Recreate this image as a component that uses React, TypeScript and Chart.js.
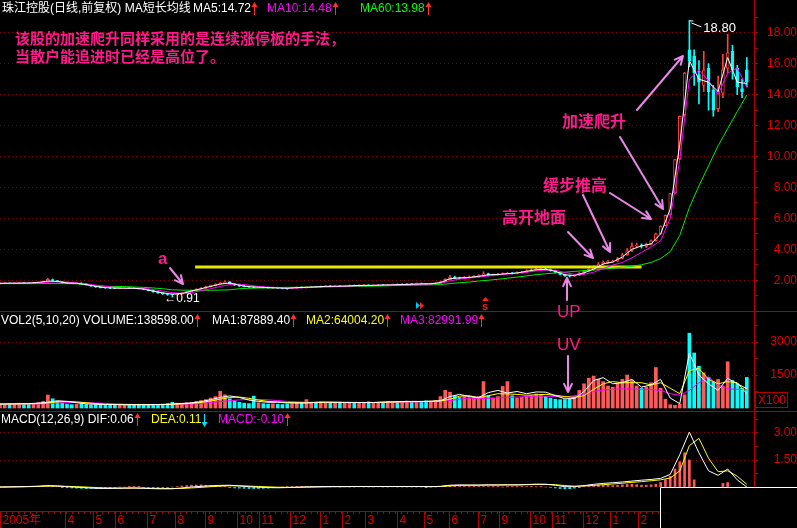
import React, { useEffect, useRef } from "react";
import { Chart, registerables } from "chart.js";

Chart.register(...registerables);

// ---------- time axis (trading-day index) ----------
const DAYS_PER_CANDLE = 4;
const DAYS_PER_LINE_POINT = 8;
const LAST_DAY = 630;
const monthDays = [0, 54, 78, 96, 123, 146, 171, 198, 216, 242, 267, 286, 305, 332, 354, 375, 399, 417, 443, 461, 487, 510, 533];
const monthLabels = ["2005年", "4", "5", "6", "7", "8", "9", "10", "11", "12", "1", "2", "3", "4", "5", "6", "7", "9", "10", "11", "12", "1", "2"];

// ---------- price candles ----------
const opens = [
  1.78, 1.80, 1.82, 1.79, 1.81, 1.85, 1.82, 1.80, 1.83, 1.86,
  1.90, 2.04, 1.97, 1.91, 1.85, 1.83, 1.79, 1.82, 1.77, 1.69,
  1.62, 1.57, 1.53, 1.50, 1.50, 1.46, 1.48, 1.51, 1.49, 1.48,
  1.46, 1.40, 1.33, 1.25, 1.18, 1.12, 1.09, 1.05, 1.10, 1.18,
  1.26, 1.34, 1.43, 1.49, 1.58, 1.65, 1.76, 1.81, 1.90, 1.77,
  1.68, 1.62, 1.59, 1.56, 1.53, 1.56, 1.52, 1.49, 1.53, 1.50,
  1.48, 1.45, 1.49, 1.55, 1.52, 1.55, 1.59, 1.56, 1.60, 1.63,
  1.60, 1.63, 1.61, 1.63, 1.67, 1.64, 1.66, 1.69, 1.66, 1.68,
  1.71, 1.68, 1.70, 1.73, 1.71, 1.74, 1.77, 1.75, 1.79, 1.78,
  1.76, 1.78, 1.81, 1.91, 2.04, 2.21, 2.16, 2.12, 2.19, 2.20,
  2.24, 2.30, 2.43, 2.32, 2.36, 2.41, 2.42, 2.47, 2.44, 2.48,
  2.52, 2.61, 2.65, 2.71, 2.73, 2.70, 2.61, 2.50, 2.37, 2.29,
  2.27, 2.33, 2.45, 2.58, 2.70, 2.86, 3.06, 3.14, 3.21, 3.23,
  3.41, 3.64, 3.92, 4.22, 4.28, 4.18, 4.31, 4.56, 5.00, 5.52,
  6.25, 7.65, 9.85, 12.70, 16.90, 16.50, 15.30, 14.60, 15.70, 14.30,
  13.10, 14.10, 15.70, 16.80, 15.70, 14.40, 15.60,
];
const closes = [
  1.80, 1.82, 1.79, 1.81, 1.84, 1.82, 1.80, 1.83, 1.86, 1.90,
  2.05, 1.98, 1.90, 1.86, 1.82, 1.80, 1.81, 1.78, 1.70, 1.62,
  1.56, 1.52, 1.50, 1.49, 1.47, 1.48, 1.50, 1.49, 1.47, 1.46,
  1.40, 1.33, 1.25, 1.18, 1.12, 1.09, 1.06, 1.10, 1.18, 1.26,
  1.35, 1.42, 1.50, 1.58, 1.66, 1.75, 1.82, 1.90, 1.78, 1.68,
  1.62, 1.58, 1.56, 1.54, 1.55, 1.52, 1.50, 1.52, 1.49, 1.47,
  1.45, 1.50, 1.54, 1.52, 1.55, 1.58, 1.57, 1.60, 1.62, 1.60,
  1.62, 1.61, 1.63, 1.66, 1.64, 1.67, 1.68, 1.66, 1.69, 1.70,
  1.68, 1.70, 1.72, 1.71, 1.74, 1.76, 1.75, 1.78, 1.77, 1.76,
  1.78, 1.80, 1.90, 2.05, 2.20, 2.15, 2.12, 2.18, 2.20, 2.25,
  2.30, 2.42, 2.32, 2.36, 2.40, 2.42, 2.45, 2.44, 2.48, 2.52,
  2.60, 2.66, 2.70, 2.72, 2.70, 2.62, 2.50, 2.38, 2.28, 2.27,
  2.32, 2.45, 2.58, 2.70, 2.85, 3.05, 3.15, 3.20, 3.22, 3.40,
  3.65, 3.90, 4.20, 4.25, 4.20, 4.30, 4.55, 5.00, 5.50, 6.20,
  7.60, 9.80, 12.60, 15.40, 16.20, 15.40, 14.80, 15.60, 14.20, 13.00,
  14.20, 15.60, 16.70, 15.60, 14.50, 14.20, 14.80,
];
const highs = [
  1.83, 1.85, 1.84, 1.83, 1.87, 1.87, 1.84, 1.86, 1.90, 1.95,
  2.12, 2.08, 1.99, 1.93, 1.88, 1.85, 1.84, 1.84, 1.79, 1.71,
  1.64, 1.59, 1.55, 1.53, 1.52, 1.51, 1.53, 1.53, 1.51, 1.50,
  1.48, 1.42, 1.35, 1.27, 1.20, 1.14, 1.11, 1.12, 1.20, 1.28,
  1.37, 1.45, 1.53, 1.61, 1.69, 1.78, 1.86, 1.96, 1.92, 1.79,
  1.70, 1.65, 1.61, 1.58, 1.58, 1.58, 1.55, 1.55, 1.55, 1.52,
  1.50, 1.53, 1.57, 1.57, 1.58, 1.62, 1.61, 1.63, 1.66, 1.65,
  1.65, 1.66, 1.66, 1.70, 1.69, 1.70, 1.72, 1.71, 1.72, 1.74,
  1.73, 1.73, 1.76, 1.76, 1.78, 1.80, 1.79, 1.82, 1.82, 1.80,
  1.81, 1.84, 1.94, 2.10, 2.32, 2.26, 2.20, 2.24, 2.28, 2.30,
  2.36, 2.55, 2.46, 2.40, 2.45, 2.48, 2.52, 2.50, 2.54, 2.58,
  2.68, 2.75, 2.78, 2.80, 2.78, 2.73, 2.64, 2.52, 2.40, 2.33,
  2.36, 2.50, 2.62, 2.76, 2.95, 3.15, 3.25, 3.28, 3.30, 3.48,
  3.75, 4.05, 4.42, 4.40, 4.35, 4.40, 4.62, 5.05, 5.52, 6.22,
  7.62, 9.82, 12.62, 15.45, 18.80, 16.90, 16.20, 16.80, 16.00, 14.60,
  15.20, 16.60, 17.90, 17.20, 15.90, 15.00, 16.40,
];
const lows = [
  1.76, 1.78, 1.77, 1.77, 1.79, 1.80, 1.78, 1.78, 1.81, 1.84,
  1.88, 1.95, 1.88, 1.84, 1.80, 1.78, 1.77, 1.76, 1.68, 1.60,
  1.53, 1.50, 1.47, 1.46, 1.45, 1.44, 1.46, 1.47, 1.45, 1.43,
  1.38, 1.31, 1.22, 1.15, 1.08, 1.02, 0.91, 1.02, 1.08, 1.16,
  1.24, 1.32, 1.40, 1.47, 1.55, 1.63, 1.73, 1.79, 1.75, 1.65,
  1.60, 1.56, 1.53, 1.51, 1.51, 1.50, 1.48, 1.47, 1.47, 1.44,
  1.41, 1.43, 1.47, 1.50, 1.50, 1.53, 1.55, 1.54, 1.58, 1.58,
  1.58, 1.59, 1.59, 1.61, 1.62, 1.62, 1.64, 1.64, 1.64, 1.66,
  1.65, 1.66, 1.68, 1.69, 1.69, 1.72, 1.73, 1.73, 1.75, 1.73,
  1.74, 1.76, 1.79, 1.88, 2.01, 2.10, 2.08, 2.09, 2.14, 2.16,
  2.20, 2.27, 2.28, 2.28, 2.32, 2.37, 2.39, 2.40, 2.41, 2.45,
  2.49, 2.57, 2.62, 2.66, 2.65, 2.58, 2.46, 2.34, 2.24, 2.20,
  2.24, 2.30, 2.42, 2.55, 2.66, 2.82, 3.02, 3.08, 3.15, 3.19,
  3.38, 3.60, 3.85, 4.10, 4.08, 4.10, 4.28, 4.52, 4.98, 5.50,
  6.20, 7.60, 9.80, 12.60, 15.80, 14.60, 13.40, 14.20, 13.00, 12.60,
  12.90, 13.80, 15.40, 15.00, 14.00, 13.80, 14.50,
];

// ---------- price moving averages (one point per 8 trading days) ----------
const ma5 = [
  1.80, 1.81, 1.81, 1.82, 1.85, 1.95, 1.92, 1.82, 1.80, 1.72,
  1.60, 1.52, 1.49, 1.48, 1.48, 1.43, 1.30, 1.18, 1.10, 1.14,
  1.30, 1.45, 1.60, 1.75, 1.82, 1.68, 1.58, 1.55, 1.52, 1.50,
  1.48, 1.52, 1.54, 1.57, 1.60, 1.61, 1.62, 1.65, 1.67, 1.67,
  1.69, 1.70, 1.72, 1.74, 1.76, 1.77, 1.85, 2.10, 2.15, 2.18,
  2.25, 2.35, 2.37, 2.43, 2.47, 2.58, 2.68, 2.70, 2.58, 2.35,
  2.30, 2.48, 2.72, 3.05, 3.18, 3.50, 4.00, 4.22, 4.35, 5.00,
  6.60, 10.80, 16.20, 15.00, 14.80, 14.20, 16.40, 14.80, 14.72,
];
const ma10 = [
  1.80, 1.80, 1.81, 1.81, 1.83, 1.88, 1.90, 1.88, 1.83, 1.76,
  1.68, 1.60, 1.54, 1.50, 1.49, 1.47, 1.40, 1.30, 1.20, 1.15,
  1.20, 1.32, 1.45, 1.60, 1.72, 1.75, 1.68, 1.60, 1.55, 1.52,
  1.50, 1.50, 1.52, 1.55, 1.58, 1.60, 1.61, 1.63, 1.65, 1.66,
  1.68, 1.69, 1.71, 1.73, 1.75, 1.76, 1.80, 1.95, 2.08, 2.15,
  2.20, 2.28, 2.34, 2.40, 2.45, 2.52, 2.60, 2.66, 2.64, 2.50,
  2.38, 2.38, 2.52, 2.75, 2.98, 3.15, 3.45, 3.80, 4.15, 4.55,
  6.00, 9.80, 15.00, 15.60, 14.90, 14.00, 15.40, 15.70, 14.48,
];
const ma60 = [
  1.78, 1.78, 1.78, 1.78, 1.78, 1.78, 1.78, 1.78, 1.77, 1.70,
  1.64, 1.61, 1.60, 1.59, 1.56, 1.54, 1.50, 1.45, 1.38, 1.36,
  1.35, 1.35, 1.35, 1.36, 1.38, 1.45, 1.48, 1.49, 1.50, 1.52,
  1.54, 1.54, 1.55, 1.56, 1.57, 1.58, 1.59, 1.60, 1.61, 1.62,
  1.63, 1.65, 1.66, 1.68, 1.69, 1.70, 1.72, 1.78, 1.84, 1.88,
  1.95, 2.00, 2.06, 2.13, 2.20, 2.28, 2.36, 2.42, 2.47, 2.52,
  2.57, 2.62, 2.66, 2.72, 2.78, 2.84, 2.90, 3.00, 3.15, 3.40,
  3.85, 4.90, 6.70, 8.10, 9.40, 10.70, 11.80, 12.90, 13.98,
];
const supportPrice = 2.86;
const supportStartDay = 163;
const supportEndDay = 536;

// ---------- volume (x100) ----------
const volumes = [
  180, 150, 200, 170, 220, 160, 190, 210, 250, 300,
  590, 420, 300, 220, 180, 150, 170, 200, 160, 140,
  180, 160, 140, 150, 170, 130, 150, 160, 140, 150,
  170, 150, 140, 160, 180, 200, 260, 220, 180, 240,
  260, 300, 340, 380, 450, 520, 760, 600, 420, 320,
  260, 220, 200, 540, 240, 200, 180, 190, 170, 160,
  180, 200, 260, 220, 380, 260, 240, 280, 250, 220,
  240, 260, 220, 250, 230, 240, 260, 280, 240, 250,
  260, 300, 280, 260, 300, 320, 290, 280, 300, 320,
  300, 340, 520, 800, 720, 560, 480, 520, 460, 500,
  520, 1200, 560, 450, 520, 980, 1200, 560, 450, 480,
  520, 560, 640, 600, 520, 450, 400, 380, 380, 400,
  520, 800, 1100, 1350, 1450, 1300, 1200, 1000, 950, 1100,
  1300, 1500, 1250, 1000, 900, 950, 1150, 1840, 900, 400,
  150, 120, 180, 600, 3400, 2500, 1900, 1600, 1400, 1200,
  1300, 1000, 2100, 1250, 1100, 900, 1390,
];
const volMa1 = [
  180, 185, 190, 200, 220, 260, 330, 300, 240, 190,
  170, 160, 155, 150, 150, 150, 155, 160, 180, 210,
  230, 290, 380, 480, 550, 480, 360, 300, 260, 260,
  230, 230, 230, 260, 270, 260, 250, 250, 250, 250,
  270, 280, 290, 300, 300, 310, 330, 520, 620, 520,
  480, 700, 800, 680, 750, 650, 730, 720, 560, 420,
  430, 750, 1250, 1380, 1100, 1150, 1300, 950, 1050, 1300,
  450, 200, 2500, 1500, 1100, 800, 1350, 1100, 880,
];
const volMa2 = [
  180, 182, 185, 190, 200, 230, 280, 300, 280, 240,
  200, 170, 160, 155, 152, 150, 152, 155, 165, 185,
  210, 250, 320, 400, 480, 500, 440, 360, 300, 280,
  250, 240, 235, 245, 255, 260, 258, 252, 250, 250,
  260, 270, 280, 290, 295, 305, 315, 400, 540, 560,
  460, 560, 650, 640, 620, 580, 600, 620, 580, 520,
  480, 560, 850, 1100, 1200, 1150, 1150, 1150, 1050, 1150,
  900, 650, 1700, 1800, 1300, 1100, 1200, 1150, 640,
];
const volMa3 = [
  180, 180, 182, 185, 190, 205, 230, 245, 250, 245,
  230, 210, 190, 175, 165, 158, 155, 155, 160, 170,
  185, 210, 250, 290, 330, 370, 390, 390, 370, 340,
  300, 280, 265, 260, 255, 255, 255, 255, 255, 252,
  255, 260, 265, 275, 285, 295, 305, 340, 400, 460,
  420, 440, 460, 480, 500, 520, 540, 540, 520, 500,
  560, 650, 750, 820, 850, 870, 860, 850, 840, 800,
  650, 580, 800, 1150, 1400, 1050, 870, 850, 830,
];

// ---------- MACD ----------
const macdBars = [
  0.00, 0.01, 0.02, 0.02, 0.02, 0.02, 0.02, 0.03, 0.04, 0.05,
  0.06, 0.04, 0.02, -0.02, -0.04, -0.05, -0.06, -0.07, -0.08, -0.07,
  -0.08, -0.07, -0.06, -0.04, -0.02, 0.00, 0.00, 0.01, 0.02, 0.01,
  -0.02, -0.03, -0.04, -0.04, -0.04, -0.03, 0.00, 0.03, 0.06, 0.08,
  0.10, 0.11, 0.12, 0.10, 0.08, 0.06, 0.05, 0.03, -0.02, -0.05,
  -0.06, -0.07, -0.08, -0.08, -0.08, -0.07, -0.06, -0.04, -0.02, 0.00,
  0.02, 0.03, 0.04, 0.04, 0.04, 0.03, 0.02, 0.02, 0.01, 0.01,
  0.01, 0.00, 0.01, 0.00, 0.00, 0.01, 0.00, 0.00, 0.00, 0.01,
  0.00, 0.00, 0.01, 0.00, 0.00, 0.00, 0.00, 0.00, 0.00, -0.01,
  0.00, 0.00, 0.03, 0.07, 0.08, 0.06, 0.04, 0.02, 0.01, 0.01,
  0.02, 0.03, 0.02, 0.01, 0.01, 0.00, 0.01, 0.01, 0.01, 0.02,
  0.03, 0.04, 0.03, 0.02, 0.00, -0.03, -0.05, -0.08, -0.10, -0.09,
  -0.06, -0.02, 0.02, 0.06, 0.09, 0.10, 0.10, 0.09, 0.08, 0.09,
  0.12, 0.14, 0.15, 0.13, 0.10, 0.10, 0.12, 0.15, 0.25, 0.40,
  0.60, 1.00, 1.40, 1.90, 1.50, 0.40, -0.50, -1.00, -1.20, -1.00,
  -0.60, 0.20, 0.25, -0.20, -0.60, -0.70, -0.40,
];
const dif = [
  0.00, 0.01, 0.02, 0.03, 0.05, 0.08, 0.06, 0.02, -0.01, -0.04,
  -0.07, -0.08, -0.07, -0.06, -0.05, -0.07, -0.09, -0.10, -0.09, -0.05,
  0.00, 0.04, 0.07, 0.09, 0.10, 0.06, 0.02, -0.01, -0.03, -0.04,
  -0.03, -0.01, 0.01, 0.02, 0.03, 0.03, 0.03, 0.03, 0.03, 0.03,
  0.03, 0.03, 0.03, 0.03, 0.03, 0.02, 0.04, 0.10, 0.12, 0.11,
  0.11, 0.12, 0.12, 0.12, 0.12, 0.14, 0.16, 0.15, 0.10, 0.02,
  0.02, 0.08, 0.15, 0.20, 0.24, 0.28, 0.33, 0.38, 0.42, 0.48,
  0.70, 1.80, 3.05, 1.90, 0.90, 0.65, 1.00, 0.40, 0.00,
];
const dea = [
  0.00, 0.00, 0.01, 0.02, 0.03, 0.05, 0.05, 0.04, 0.02, 0.00,
  -0.03, -0.05, -0.06, -0.06, -0.06, -0.06, -0.07, -0.08, -0.09, -0.08,
  -0.05, -0.02, 0.02, 0.05, 0.07, 0.07, 0.05, 0.03, 0.01, -0.01,
  -0.02, -0.02, -0.01, 0.00, 0.01, 0.02, 0.02, 0.03, 0.03, 0.03,
  0.03, 0.03, 0.03, 0.03, 0.03, 0.03, 0.03, 0.06, 0.09, 0.10,
  0.10, 0.11, 0.11, 0.12, 0.12, 0.13, 0.14, 0.15, 0.13, 0.08,
  0.05, 0.06, 0.09, 0.13, 0.17, 0.21, 0.26, 0.30, 0.35, 0.40,
  0.50, 0.90, 2.30, 2.70, 1.60, 0.85, 0.90, 0.60, 0.15,
];

// ---------- axis ticks ----------
const priceTicks = [1, 2, 3, 4, 5, 6, 7, 8, 9, 10, 11, 12, 13, 14, 15, 16, 17, 18, 19];
const priceLabels = [2, 4, 6, 8, 10, 12, 14, 16, 18];
const volTicks = [750, 1500, 2250, 3000, 3750];
const volLabels = [1500, 3000];
const macdTicks = [0, 0.75, 1.5, 2.25, 3, 3.75];
const macdLabels = [1.5, 3];

// ---------- styles ----------
const RED = "#ff4040";
const VOL_RED = "#ff5a5a";
const CYAN = "#00ffff";
const AXIS_RED = "#b00000";
const LABEL_RED = "#e00000";
const GRID_RED = "#800000";
const PINK = "#ff1a8c";
const VIOLET = "#e888e8";
const FONT = '"Liberation Sans", "Noto Sans CJK SC", sans-serif';
const CJK = '"Noto Sans CJK SC", sans-serif';

const isUp = (i: number) => closes[i] >= opens[i];
const pts = (arr: number[], step: number) => arr.map((y, i) => ({ x: i * step, y }));

function rightAxis(min: number, max: number, weight: number, tickVals: number[], labelVals: number[], digits: number, pad: number) {
  return {
    type: "linear",
    position: "right",
    stack: "panels",
    stackWeight: weight,
    min,
    max,
    afterFit: (s: any) => {
      s.width = 43;
      s.paddingTop = 0;
      s.paddingBottom = 0;
    },
    afterBuildTicks: (s: any) => { s.ticks = tickVals.map((v) => ({ value: v })); },
    ticks: {
      autoSkip: false,
      crossAlign: "far",
      padding: pad,
      color: LABEL_RED,
      font: { family: FONT, size: 12 },
      callback: (v: number) => (labelVals.includes(v) ? v.toFixed(digits) : ""),
    },
    grid: {
      color: (c: any) => (c.tick && labelVals.includes(c.tick.value) ? GRID_RED : "rgba(0,0,0,0)"),
      tickColor: AXIS_RED,
      tickLength: 4,
      lineWidth: 1,
    },
    border: { display: true, color: AXIS_RED, width: 1, dash: [1, 3] },
  };
}

type Seg = { x: number; text: string; color: string; arrow?: { dir: "up" | "down"; color: string } };
const headers: { y: number; segs: Seg[] }[] = [
  {
    y: 9,
    segs: [
      { x: 2, text: "珠江控股(日线,前复权) MA短长均线", color: "#ffffff" },
      { x: 193, text: "MA5:14.72", color: "#ffffff", arrow: { dir: "up", color: "#ff3030" } },
      { x: 267, text: "MA10:14.48", color: "#ff00ff", arrow: { dir: "up", color: "#ff3030" } },
      { x: 360, text: "MA60:13.98", color: "#00ff00", arrow: { dir: "up", color: "#ff3030" } },
    ],
  },
  {
    y: 321,
    segs: [
      { x: 1, text: "VOL2(5,10,20) VOLUME:138598.00", color: "#ffffff", arrow: { dir: "up", color: "#ff3030" } },
      { x: 212, text: "MA1:87889.40", color: "#ffffff", arrow: { dir: "up", color: "#ff3030" } },
      { x: 306, text: "MA2:64004.20", color: "#ffff00", arrow: { dir: "up", color: "#ff3030" } },
      { x: 400, text: "MA3:82991.99", color: "#ff00ff", arrow: { dir: "up", color: "#ff3030" } },
    ],
  },
  {
    y: 420,
    segs: [
      { x: 1, text: "MACD(12,26,9) DIF:0.06", color: "#ffffff", arrow: { dir: "up", color: "#ff3030" } },
      { x: 151, text: "DEA:0.11", color: "#ffff00", arrow: { dir: "down", color: "#00e0ff" } },
      { x: 218, text: "MACD:-0.10", color: "#ff00ff", arrow: { dir: "up", color: "#ff3030" } },
    ],
  },
];

const notes = [
  { text: "该股的加速爬升同样采用的是连续涨停板的手法，", x: 15, y: 38, font: `bold 15px ${CJK}` },
  { text: "当散户能追进时已经是高位了。", x: 15, y: 56, font: `bold 15px ${CJK}` },
  { text: "加速爬升", x: 562, y: 121, font: `bold 16px ${CJK}` },
  { text: "缓步推高", x: 543, y: 185, font: `bold 16px ${CJK}` },
  { text: "高开地面", x: 502, y: 217, font: `bold 16px ${CJK}` },
  { text: "a", x: 158, y: 259, font: `bold 17px ${FONT}` },
  { text: "UP", x: 557, y: 312, font: `17px ${FONT}` },
  { text: "UV", x: 557, y: 345, font: `17px ${FONT}` },
];
const arrows = [
  [170, 268, 183, 284],
  [567, 300, 567, 278],
  [568, 356, 568, 392],
  [568, 232, 593, 258],
  [583, 195, 610, 252],
  [610, 193, 651, 219],
  [620, 137, 663, 209],
  [637, 110, 683, 56],
];

function glyphArrow(ctx: CanvasRenderingContext2D, x: number, y: number, dir: string, color: string) {
  ctx.save();
  ctx.strokeStyle = color;
  ctx.fillStyle = color;
  ctx.lineWidth = 1;
  const top = y - 6;
  const bot = y + 6;
  ctx.beginPath();
  ctx.moveTo(x + 0.5, top);
  ctx.lineTo(x + 0.5, bot);
  ctx.stroke();
  ctx.beginPath();
  if (dir === "up") {
    ctx.moveTo(x + 0.5, top - 1);
    ctx.lineTo(x - 2.5, top + 4);
    ctx.lineTo(x + 3.5, top + 4);
  } else {
    ctx.moveTo(x + 0.5, bot + 1);
    ctx.lineTo(x - 2.5, bot - 4);
    ctx.lineTo(x + 3.5, bot - 4);
  }
  ctx.closePath();
  ctx.fill();
  ctx.restore();
}

function pointer(ctx: CanvasRenderingContext2D, x1: number, y1: number, x2: number, y2: number) {
  const a = Math.atan2(y2 - y1, x2 - x1);
  ctx.save();
  ctx.strokeStyle = VIOLET;
  ctx.lineWidth = 2;
  ctx.lineCap = "round";
  ctx.beginPath();
  ctx.moveTo(x1, y1);
  ctx.lineTo(x2, y2);
  ctx.moveTo(x2, y2);
  ctx.lineTo(x2 - 9 * Math.cos(a - 0.45), y2 - 9 * Math.sin(a - 0.45));
  ctx.moveTo(x2, y2);
  ctx.lineTo(x2 - 9 * Math.cos(a + 0.45), y2 - 9 * Math.sin(a + 0.45));
  ctx.stroke();
  ctx.restore();
}

const overlay = {
  id: "overlay",
  beforeDraw(chart: any) {
    const ctx = chart.ctx;
    ctx.save();
    ctx.fillStyle = "#000";
    ctx.fillRect(0, 0, chart.width, chart.height);
    ctx.restore();
  },
  afterDraw(chart: any) {
    const ctx: CanvasRenderingContext2D = chart.ctx;
    const W = chart.width;
    const H = chart.height;
    const xs = chart.scales.x;
    const ys = chart.scales.y;
    const yv = chart.scales.yv;
    const area = chart.chartArea;
    ctx.save();
    // panel separators
    ctx.strokeStyle = AXIS_RED;
    ctx.lineWidth = 1;
    ctx.beginPath();
    for (const yy of [Math.round(ys.bottom) + 0.5, Math.round(yv.bottom) + 0.5, Math.round(area.bottom) + 0.5]) {
      ctx.moveTo(0, yy);
      ctx.lineTo(W, yy);
    }
    ctx.stroke();
    // time axis row
    ctx.beginPath();
    for (let d = 0; d <= LAST_DAY; d += 5) {
      const x = Math.round(xs.getPixelForValue(d)) + 0.5;
      ctx.moveTo(x, area.bottom);
      ctx.lineTo(x, area.bottom + 3);
    }
    ctx.stroke();
    ctx.font = `12px ${FONT}`;
    ctx.textBaseline = "middle";
    ctx.fillStyle = LABEL_RED;
    monthDays.forEach((d, i) => {
      const x = Math.round(xs.getPixelForValue(d)) + 0.5;
      ctx.beginPath();
      ctx.moveTo(x, area.bottom);
      ctx.lineTo(x, H);
      ctx.stroke();
      ctx.fillText(monthLabels[i], x + 2, (area.bottom + H) / 2 + 1);
    });
    // X100 box
    ctx.strokeRect(755.5, 392.5, 32, 15);
    ctx.fillText("X100", 758, 400.5);
    // headers
    for (const h of headers) {
      for (const s of h.segs) {
        ctx.font = `12px ${FONT}`;
        ctx.fillStyle = s.color;
        ctx.fillText(s.text, s.x, h.y);
        if (s.arrow) {
          const ax = Math.round(s.x + ctx.measureText(s.text).width + 3);
          glyphArrow(ctx, ax, h.y, s.arrow.dir, s.arrow.color);
        }
      }
    }
    // max / min labels
    let hi = 0;
    let lo = 0;
    highs.forEach((v, i) => { if (v > highs[hi]) hi = i; });
    lows.forEach((v, i) => { if (v < lows[lo]) lo = i; });
    const hx = xs.getPixelForValue(hi * DAYS_PER_CANDLE);
    const hy = ys.getPixelForValue(highs[hi]);
    ctx.strokeStyle = "#ffffff";
    ctx.lineWidth = 1;
    ctx.beginPath();
    ctx.moveTo(hx, hy + 0.5);
    ctx.lineTo(hx + 4, hy + 0.5);
    ctx.moveTo(hx + 2, hy + 2.5);
    ctx.lineTo(hx + 12, hy + 6.5);
    ctx.stroke();
    ctx.fillStyle = "#ffffff";
    ctx.font = `13px ${FONT}`;
    ctx.fillText(highs[hi].toFixed(2), hx + 14, hy + 8);
    const lx = xs.getPixelForValue(lo * DAYS_PER_CANDLE);
    const ly = ys.getPixelForValue(lows[lo]);
    ctx.font = `12px ${FONT}`;
    ctx.fillText("←" + lows[lo].toFixed(2), lx - 8, ly + 2);
    // small signal markers
    ctx.fillStyle = "#00c8ff";
    ctx.beginPath();
    ctx.moveTo(416, 302); ctx.lineTo(420, 305.5); ctx.lineTo(416, 309); ctx.fill();
    ctx.fillStyle = "#ff2020";
    ctx.beginPath();
    ctx.moveTo(420, 302); ctx.lineTo(424, 305.5); ctx.lineTo(420, 309); ctx.fill();
    ctx.beginPath();
    ctx.moveTo(485.5, 297); ctx.lineTo(482, 301); ctx.lineTo(489, 301); ctx.fill();
    ctx.font = `bold 11px ${FONT}`;
    ctx.fillText("s", 482, 307);
    // annotations
    for (const a of arrows) pointer(ctx, a[0], a[1], a[2], a[3]);
    ctx.fillStyle = PINK;
    for (const n of notes) {
      ctx.font = n.font;
      ctx.fillText(n.text, n.x, n.y);
    }
    // covering box bottom-right
    ctx.fillStyle = "#000";
    ctx.fillRect(660, 487, W - 660, H - 487);
    ctx.strokeStyle = "#ffffff";
    ctx.beginPath();
    ctx.moveTo(660.5, H);
    ctx.lineTo(660.5, 487.5);
    ctx.lineTo(W, 487.5);
    ctx.stroke();
    ctx.restore();
  },
};

export default function App() {
  const ref = useRef<HTMLCanvasElement>(null);
  useEffect(() => {
    document.body.style.margin = "0";
    document.body.style.background = "#000";
    const canvas = ref.current as HTMLCanvasElement;
    const candleIdx = opens.map((_, i) => i);
    const chart = new Chart(canvas, {
      type: "bar",
      data: {
        datasets: [
          { type: "line", label: "MA5", yAxisID: "y", data: pts(ma5, DAYS_PER_LINE_POINT), borderColor: "#ffffff", borderWidth: 1, pointRadius: 0, order: 1 },
          { type: "line", label: "MA10", yAxisID: "y", data: pts(ma10, DAYS_PER_LINE_POINT), borderColor: "#ff00ff", borderWidth: 1, pointRadius: 0, order: 2 },
          { type: "line", label: "MA60", yAxisID: "y", data: pts(ma60, DAYS_PER_LINE_POINT), borderColor: "#00ee00", borderWidth: 1, pointRadius: 0, order: 3 },
          { type: "line", label: "support", yAxisID: "y", data: [{ x: supportStartDay, y: supportPrice }, { x: supportEndDay, y: supportPrice }], borderColor: "#e6e600", borderWidth: 3, pointRadius: 0, order: 4 },
          {
            type: "bar", label: "body", yAxisID: "y", grouped: false, order: 10,
            data: candleIdx.map((i) => ({ x: i * DAYS_PER_CANDLE, y: [opens[i], closes[i]] })),
            backgroundColor: (c: any) => (c.dataIndex !== undefined && isUp(c.dataIndex) ? "#000000" : CYAN),
            borderColor: (c: any) => (c.dataIndex !== undefined && isUp(c.dataIndex) ? RED : CYAN),
            borderWidth: 1, borderSkipped: false, barThickness: 3,
          },
          {
            type: "bar", label: "wick", yAxisID: "y", grouped: false, order: 11,
            data: candleIdx.map((i) => ({ x: i * DAYS_PER_CANDLE, y: [lows[i], highs[i]] })),
            backgroundColor: (c: any) => (c.dataIndex !== undefined && isUp(c.dataIndex) ? RED : CYAN),
            barThickness: 1,
          },
          { type: "line", label: "VMA1", yAxisID: "yv", data: pts(volMa1, DAYS_PER_LINE_POINT), borderColor: "#ffffff", borderWidth: 1, pointRadius: 0, order: 5 },
          { type: "line", label: "VMA2", yAxisID: "yv", data: pts(volMa2, DAYS_PER_LINE_POINT), borderColor: "#ffff00", borderWidth: 1, pointRadius: 0, order: 6 },
          { type: "line", label: "VMA3", yAxisID: "yv", data: pts(volMa3, DAYS_PER_LINE_POINT), borderColor: "#ff00ff", borderWidth: 1, pointRadius: 0, order: 7 },
          {
            type: "bar", label: "volume", yAxisID: "yv", grouped: false, order: 12,
            data: pts(volumes, DAYS_PER_CANDLE),
            backgroundColor: (c: any) => (c.dataIndex !== undefined && isUp(c.dataIndex) ? VOL_RED : CYAN),
            barThickness: 3,
          },
          { type: "line", label: "DIF", yAxisID: "ym", data: pts(dif, DAYS_PER_LINE_POINT), borderColor: "#ffffff", borderWidth: 1, pointRadius: 0, order: 8 },
          { type: "line", label: "DEA", yAxisID: "ym", data: pts(dea, DAYS_PER_LINE_POINT), borderColor: "#ffff00", borderWidth: 1, pointRadius: 0, order: 9 },
          {
            type: "bar", label: "MACD", yAxisID: "ym", grouped: false, order: 13,
            data: pts(macdBars, DAYS_PER_CANDLE),
            backgroundColor: (c: any) => (c.raw && c.raw.y < 0 ? CYAN : VOL_RED),
            barThickness: 2,
          },
        ] as any,
      },
      options: {
        responsive: false,
        animation: false,
        events: [],
        layout: { padding: { left: 0, right: 0, top: 0, bottom: 17 } },
        plugins: { legend: { display: false }, tooltip: { enabled: false } },
        scales: {
          x: { type: "linear", min: 0, max: LAST_DAY, display: false, offset: false },
          y: rightAxis(0.01, 20.12, 311, priceTicks, priceLabels, 2, 7),
          yv: rightAxis(-136, 4409, 100, volTicks, volLabels, 0, 10),
          ym: rightAxis(-1.33, 4.22, 100, macdTicks, macdLabels, 2, 14),
        } as any,
      },
      plugins: [overlay],
    } as any);
    return () => chart.destroy();
  }, []);
  return (
    <div style={{ width: 797, height: 528, background: "#000" }}>
      <canvas ref={ref} width={797} height={528} style={{ display: "block" }} />
    </div>
  );
}
